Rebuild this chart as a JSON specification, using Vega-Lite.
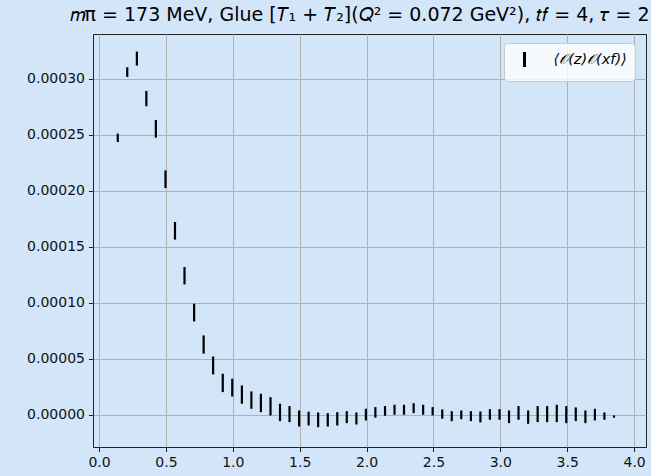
{
  "$schema": "https://vega.github.io/schema/vega-lite/v6.json",
  "width": 553,
  "height": 413,
  "autosize": {"type": "none"},
  "padding": {"left": 93, "top": 34, "right": 5, "bottom": 29},
  "background": "#d3e6f9",
  "title": {
    "text": "𝑚π = 173 MeV, Glue [𝑇₁ + 𝑇₂](𝑄² = 0.072 GeV²), 𝑡𝑓 = 4, 𝜏 = 2",
    "font": "DejaVu Sans",
    "fontSize": 19,
    "fontWeight": "normal",
    "color": "#000000",
    "anchor": "middle",
    "dx": -10,
    "offset": 9
  },
  "config": {
    "view": {"stroke": "#222222", "strokeWidth": 1, "fill": "#d3e6f9"},
    "axis": {
      "domain": false,
      "grid": true,
      "gridColor": "#b0b0b0",
      "gridWidth": 1,
      "tickColor": "#222222",
      "tickSize": 4.5,
      "tickWidth": 1,
      "labelFont": "DejaVu Sans",
      "labelFontSize": 14,
      "labelColor": "#111111",
      "labelPadding": 4,
      "title": null
    }
  },
  "data": {
    "values": [
      {"x": 0.140, "lo": 0.0002436, "hi": 0.0002511},
      {"x": 0.211, "lo": 0.0003017, "hi": 0.0003103},
      {"x": 0.283, "lo": 0.0003118, "hi": 0.0003243},
      {"x": 0.354, "lo": 0.0002755, "hi": 0.0002892},
      {"x": 0.425, "lo": 0.0002475, "hi": 0.0002633},
      {"x": 0.497, "lo": 0.0002025, "hi": 0.0002183},
      {"x": 0.568, "lo": 0.0001565, "hi": 0.0001722},
      {"x": 0.639, "lo": 0.0001165, "hi": 0.0001320},
      {"x": 0.711, "lo": 0.0000835, "hi": 0.0000993},
      {"x": 0.782, "lo": 0.0000547, "hi": 0.0000710},
      {"x": 0.853, "lo": 0.0000362, "hi": 0.0000522},
      {"x": 0.925, "lo": 0.0000204, "hi": 0.0000368},
      {"x": 0.996, "lo": 0.0000165, "hi": 0.0000323},
      {"x": 1.068, "lo": 0.0000100, "hi": 0.0000263},
      {"x": 1.139, "lo": 0.0000055, "hi": 0.0000210},
      {"x": 1.210, "lo": 0.0000025, "hi": 0.0000189},
      {"x": 1.282, "lo": -0.0000004, "hi": 0.0000159},
      {"x": 1.353, "lo": -0.0000055, "hi": 0.0000100},
      {"x": 1.424, "lo": -0.0000064, "hi": 0.0000079},
      {"x": 1.496, "lo": -0.0000103, "hi": 0.0000040},
      {"x": 1.567, "lo": -0.0000094, "hi": 0.0000029},
      {"x": 1.638, "lo": -0.0000109, "hi": 0.0000022},
      {"x": 1.710, "lo": -0.0000103, "hi": 0.0000016},
      {"x": 1.781, "lo": -0.0000094, "hi": 0.0000025},
      {"x": 1.852, "lo": -0.0000073, "hi": 0.0000034},
      {"x": 1.924, "lo": -0.0000085, "hi": 0.0000022},
      {"x": 1.995, "lo": -0.0000049, "hi": 0.0000055},
      {"x": 2.066, "lo": -0.0000025, "hi": 0.0000070},
      {"x": 2.138, "lo": -0.0000007, "hi": 0.0000079},
      {"x": 2.209, "lo": 0.0000002, "hi": 0.0000091},
      {"x": 2.280, "lo": 0.0000002, "hi": 0.0000091},
      {"x": 2.352, "lo": 0.0000016, "hi": 0.0000105},
      {"x": 2.423, "lo": 0.0000002, "hi": 0.0000091},
      {"x": 2.494, "lo": -0.0000004, "hi": 0.0000070},
      {"x": 2.566, "lo": -0.0000034, "hi": 0.0000049},
      {"x": 2.637, "lo": -0.0000055, "hi": 0.0000034},
      {"x": 2.708, "lo": -0.0000038, "hi": 0.0000040},
      {"x": 2.780, "lo": -0.0000055, "hi": 0.0000034},
      {"x": 2.851, "lo": -0.0000067, "hi": 0.0000031},
      {"x": 2.922, "lo": -0.0000043, "hi": 0.0000052},
      {"x": 2.994, "lo": -0.0000043, "hi": 0.0000052},
      {"x": 3.065, "lo": -0.0000073, "hi": 0.0000040},
      {"x": 3.136, "lo": -0.0000043, "hi": 0.0000079},
      {"x": 3.208, "lo": -0.0000079, "hi": 0.0000040},
      {"x": 3.279, "lo": -0.0000064, "hi": 0.0000079},
      {"x": 3.350, "lo": -0.0000064, "hi": 0.0000079},
      {"x": 3.422, "lo": -0.0000064, "hi": 0.0000091},
      {"x": 3.493, "lo": -0.0000073, "hi": 0.0000079},
      {"x": 3.564, "lo": -0.0000055, "hi": 0.0000067},
      {"x": 3.636, "lo": -0.0000073, "hi": 0.0000040},
      {"x": 3.707, "lo": -0.0000049, "hi": 0.0000055},
      {"x": 3.778, "lo": -0.0000043, "hi": 0.0000022},
      {"x": 3.850, "lo": -0.0000025, "hi": -0.0000004}
    ]
  },
  "mark": {"type": "rule", "strokeWidth": 2.2, "strokeCap": "butt"},
  "encoding": {
    "x": {
      "field": "x",
      "type": "quantitative",
      "scale": {"domain": [-0.045, 4.089], "nice": false, "zero": false},
      "axis": {"values": [0, 0.5, 1, 1.5, 2, 2.5, 3, 3.5, 4], "format": ".1f"}
    },
    "y": {
      "field": "lo",
      "type": "quantitative",
      "scale": {"domain": [-0.0000286, 0.00034], "nice": false, "zero": false},
      "axis": {"values": [0, 0.00005, 0.0001, 0.00015, 0.0002, 0.00025, 0.0003], "format": ".5f"}
    },
    "y2": {"field": "hi"},
    "color": {
      "datum": "⟨𝒪(z)𝒪(xf)⟩",
      "scale": {"range": ["#000000"]},
      "legend": {
        "title": null,
        "orient": "none",
        "legendX": 411,
        "legendY": 9,
        "symbolType": "M0,-1L0,1",
        "symbolSize": 225,
        "symbolStrokeWidth": 3,
        "symbolStrokeColor": "#000000",
        "symbolOffset": 4,
        "labelOffset": 20,
        "labelFont": "DejaVu Sans",
        "labelFontSize": 14.5,
        "labelFontStyle": "italic",
        "labelColor": "#000000",
        "padding": 7.5,
        "fillColor": "rgba(255,255,255,0.8)",
        "strokeColor": "#cccccc",
        "cornerRadius": 4
      }
    }
  }
}
